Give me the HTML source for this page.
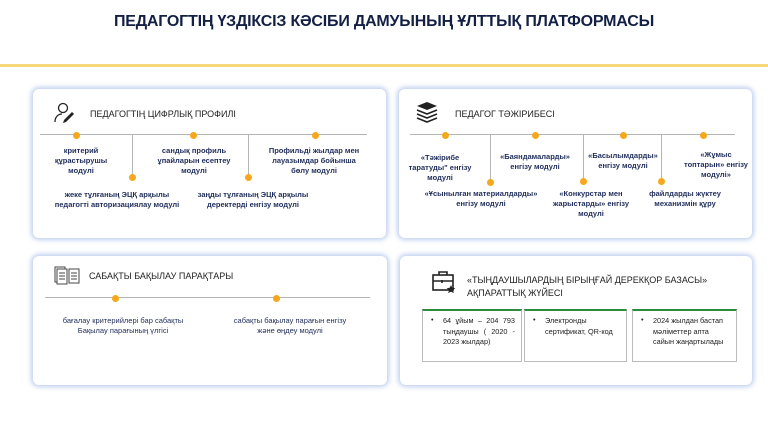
<!DOCTYPE html>
<html><head><meta charset="utf-8"><style>
*{margin:0;padding:0;box-sizing:border-box}
body{width:768px;height:432px;background:#fff;position:relative;overflow:hidden;font-family:"Liberation Sans","DejaVu Sans",sans-serif;color:#1f2d5a}
.a{position:absolute}
.card{position:absolute;background:#fff;border-radius:6px;box-shadow:0 0 5px 2px rgba(140,170,225,.55)}
.line{position:absolute;height:1px;background:#b5b5b5}
.v{position:absolute;width:1px;background:#b5b5b5}
.dot{position:absolute;width:7px;height:7px;border-radius:50%;background:#f6a71b;margin:-3px 0 0 -3px}
.t{position:absolute;font-size:7.5px;font-weight:bold;text-align:center;line-height:10px;transform:translateX(-50%);white-space:nowrap}
.h{position:absolute;font-size:9px;color:#222;white-space:nowrap}
.box{position:absolute;border:1px solid #bbb;border-top:2px solid #2e8b3e;font-size:7.3px;color:#222;line-height:10.5px;padding:5px 6px 0 20px}
.box:before{content:"•";position:absolute;left:8px;top:4px}
</style></head><body>
<div class="a" style="left:0;top:13px;width:768px;text-align:center;font-size:16px;font-weight:bold;color:#132044;letter-spacing:-0.2px">ПЕДАГОГТІҢ ҮЗДІКСІЗ КӘСІБИ ДАМУЫНЫҢ ҰЛТТЫҚ ПЛАТФОРМАСЫ</div>
<div class="a" style="left:0;top:64px;width:768px;height:3px;background:#f8d77c"></div>

<div class="card" style="left:33px;top:89px;width:353px;height:149px"></div>
<div class="card" style="left:399px;top:89px;width:353px;height:149px"></div>
<div class="card" style="left:33px;top:256px;width:354px;height:129px"></div>
<div class="card" style="left:400px;top:256px;width:352px;height:129px"></div>

<!-- card1 -->
<svg class="a" style="left:52px;top:102px" width="26" height="22" viewBox="0 0 26 22"><circle cx="11" cy="6" r="4.5" fill="none" stroke="#222" stroke-width="1.3"/><path d="M3 20c0-5 3-8 7-8" fill="none" stroke="#222" stroke-width="1.3"/><path d="M12 18l8-8 2 2-8 8-3 1z" fill="#222"/></svg>
<div class="h" style="left:90px;top:109px">ПЕДАГОГТІҢ ЦИФРЛЫҚ ПРОФИЛІ</div>
<div class="line" style="left:40px;top:134px;width:327px"></div>
<div class="v" style="left:132px;top:135px;height:42px"></div>
<div class="v" style="left:248px;top:135px;height:42px"></div>
<div class="dot" style="left:76px;top:135px"></div><div class="dot" style="left:193px;top:135px"></div><div class="dot" style="left:315px;top:135px"></div>
<div class="dot" style="left:132px;top:177px"></div><div class="dot" style="left:248px;top:177px"></div>
<div class="t" style="left:81px;top:146px">критерий<br>құрастырушы<br>модулі</div>
<div class="t" style="left:194px;top:146px">сандық профиль<br>ұпайларын есептеу<br>модулі</div>
<div class="t" style="left:314px;top:146px">Профильді жылдар мен<br>лауазымдар бойынша<br>бөлу модулі</div>
<div class="t" style="left:117px;top:190px">жеке тұлғаның ЭЦҚ арқылы<br>педагогті авторизациялау модулі</div>
<div class="t" style="left:253px;top:190px">заңды тұлғаның ЭЦҚ арқылы<br>деректерді енгізу модулі</div>

<!-- card2 -->
<svg class="a" style="left:415px;top:100px" width="24" height="24" viewBox="0 0 24 24"><path d="M2 6l10-4 10 4-10 4z" fill="#222"/><path d="M2 10l10 4 10-4M2 14l10 4 10-4M2 18l10 4 10-4" fill="none" stroke="#222" stroke-width="1.6"/></svg>
<div class="h" style="left:455px;top:109px">ПЕДАГОГ ТӘЖІРИБЕСІ</div>
<div class="line" style="left:410px;top:134px;width:325px"></div>
<div class="v" style="left:490px;top:135px;height:46px"></div>
<div class="v" style="left:583px;top:135px;height:46px"></div>
<div class="v" style="left:661px;top:135px;height:46px"></div>
<div class="dot" style="left:445px;top:135px"></div><div class="dot" style="left:535px;top:135px"></div><div class="dot" style="left:623px;top:135px"></div><div class="dot" style="left:703px;top:135px"></div>
<div class="dot" style="left:490px;top:182px"></div><div class="dot" style="left:583px;top:181px"></div><div class="dot" style="left:661px;top:181px"></div>
<div class="t" style="left:440px;top:153px">«Тәжірибе<br>таратуды" енгізу<br>модулі</div>
<div class="t" style="left:535px;top:152px">«Баяндамаларды»<br>енгізу модулі</div>
<div class="t" style="left:623px;top:151px">«Басылымдарды»<br>енгізу модулі</div>
<div class="t" style="left:716px;top:150px">«Жұмыс<br>топтарын» енгізу<br>модулі»</div>
<div class="t" style="left:481px;top:189px">«Ұсынылған материалдарды»<br>енгізу модулі</div>
<div class="t" style="left:591px;top:189px">«Конкурстар мен<br>жарыстарды» енгізу<br>модулі</div>
<div class="t" style="left:685px;top:189px">файлдарды жүктеу<br>механизмін құру</div>

<!-- card3 -->
<svg class="a" style="left:53px;top:265px" width="28" height="20" viewBox="0 0 28 20"><rect x="2" y="2" width="10" height="15" fill="#fff" stroke="#444"/><rect x="4" y="4" width="10" height="15" fill="#fff" stroke="#444"/><path d="M6 8h6M6 11h6M6 14h6" stroke="#444"/><rect x="16" y="4" width="10" height="14" fill="#fff" stroke="#444"/><path d="M18 8h6M18 11h6M18 14h6" stroke="#444"/></svg>
<div class="h" style="left:89px;top:271px">САБАҚТЫ БАҚЫЛАУ ПАРАҚТАРЫ</div>
<div class="line" style="left:45px;top:297px;width:325px"></div>
<div class="dot" style="left:115px;top:298px"></div><div class="dot" style="left:276px;top:298px"></div>
<div class="t" style="left:123px;top:316px;font-weight:normal;color:#1f2d5a">бағалау критерийлері бар сабақты<br>Бақылау парағының үлгісі</div>
<div class="t" style="left:290px;top:316px;font-weight:normal">сабақты бақылау парағын енгізу<br>және өңдеу модулі</div>

<!-- card4 -->
<svg class="a" style="left:431px;top:270px" width="26" height="24" viewBox="0 0 26 24"><rect x="2" y="5" width="20" height="15" fill="none" stroke="#222" stroke-width="1.6"/><path d="M8 5V2h8v3M2 11h20M11 10v3" stroke="#222" stroke-width="1.6" fill="none"/><path d="M20 15l1.3 2.7 3 .4-2.2 2 .6 3-2.7-1.5-2.7 1.5.6-3-2.2-2 3-.4z" fill="#222"/></svg>
<div class="h" style="left:467px;top:274px;line-height:13px;font-size:9px">«ТЫҢДАУШЫЛАРДЫҢ БІРЫҢҒАЙ ДЕРЕКҚОР БАЗАСЫ»<br>АҚПАРАТТЫҚ ЖҮЙЕСІ</div>
<div class="box" style="left:422px;top:309px;width:100px;height:53px;text-align:justify">64 ұйым – 204 793 тыңдаушы ( 2020 - 2023 жылдар)</div>
<div class="box" style="left:524px;top:309px;width:103px;height:53px">Электронды<br>сертификат, QR-код</div>
<div class="box" style="left:632px;top:309px;width:105px;height:53px">2024 жылдан бастап мәліметтер апта сайын жаңартылады</div>
</body></html>
